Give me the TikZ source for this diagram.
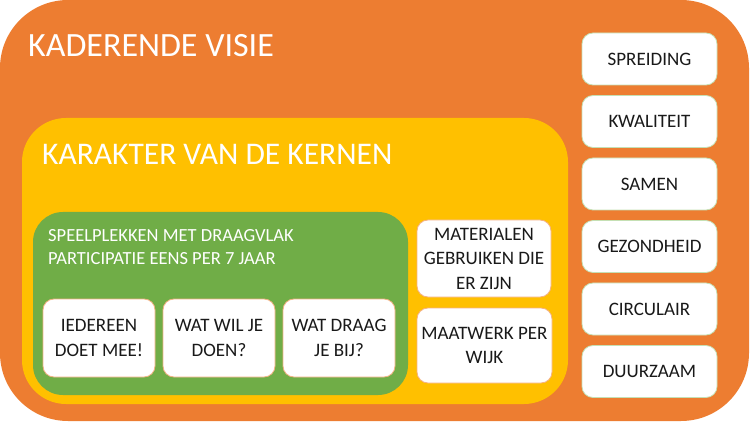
\documentclass[tikz,border=0pt]{standalone}
\usepackage{fontspec}
\setmainfont{Carlito}
\definecolor{visieorange}{HTML}{ED7D31}
\definecolor{kerngeel}{HTML}{FFC000}
\definecolor{plekgroen}{HTML}{70AD47}
\definecolor{randgroen}{HTML}{C5E0B4}
\definecolor{randoranje}{HTML}{F4B183}
\tikzset{
  kaart/.style={draw=randoranje, line width=0.8pt, fill=white, rounded corners=11pt,
    align=center, inner sep=0pt, text=black!90, font=\fontsize{19}{24.5}\selectfont},
  waarde/.style={kaart, draw=randgroen, minimum width=135pt, minimum height=52pt},
  kop/.style={text=white, inner sep=0pt, anchor=base west, font=\fontsize{31.5}{36}\selectfont}
}
\begin{document}
\begin{tikzpicture}[x=1pt,y=-1pt]
\useasboundingbox (0,0) rectangle (750,422);

\fill [visieorange, rounded corners=68pt] (0,0) rectangle (749,421);
\fill [kerngeel, rounded corners=44pt] (22,118) rectangle (568,404);
\fill [plekgroen, rounded corners=30pt] (33,212) rectangle (408,395);

\node [kop, font=\fontsize{34}{36}\selectfont] (visie) at (28,57) {KADERENDE VISIE};
\node [kop] (kernen) at (42,165) {KARAKTER VAN DE KERNEN};
\node [text=white, inner sep=0pt, anchor=base west, align=left,
       font=\fontsize{18.5}{23}\selectfont] (plekken) at (48,265)
      {SPEELPLEKKEN MET DRAAGVLAK\\PARTICIPATIE EENS PER 7 JAAR};

% kaarten in het groene vlak
\node [kaart, minimum width=112pt, minimum height=78pt] (iedereen) at (99,338) {IEDEREEN\\DOET MEE!};
\node [kaart, minimum width=112pt, minimum height=78pt] (doen) at (219,338) {WAT WIL JE\\DOEN?};
\node [kaart, minimum width=112pt, minimum height=78pt] (bij) at (339,338) {WAT DRAAG\\JE BIJ?};

% kaarten in het gele vlak
\node [kaart, minimum width=134pt, minimum height=77pt] (materialen) at (484,258.5) {MATERIALEN\\GEBRUIKEN DIE\\ER ZIJN};
\node [kaart, minimum width=135pt, minimum height=75pt] (maatwerk) at (484.5,345.5) {MAATWERK PER\\WIJK};

% waarden rechts
\node [waarde] (spreiding) at (649.5,59) {SPREIDING};
\node [waarde] (kwaliteit) at (649.5,121.5) {KWALITEIT};
\node [waarde] (samen) at (649.5,184) {SAMEN};
\node [waarde] (gezondheid) at (649.5,246.5) {GEZONDHEID};
\node [waarde] (circulair) at (649.5,309) {CIRCULAIR};
\node [waarde] (duurzaam) at (649.5,371.5) {DUURZAAM};
\end{tikzpicture}
\end{document}
